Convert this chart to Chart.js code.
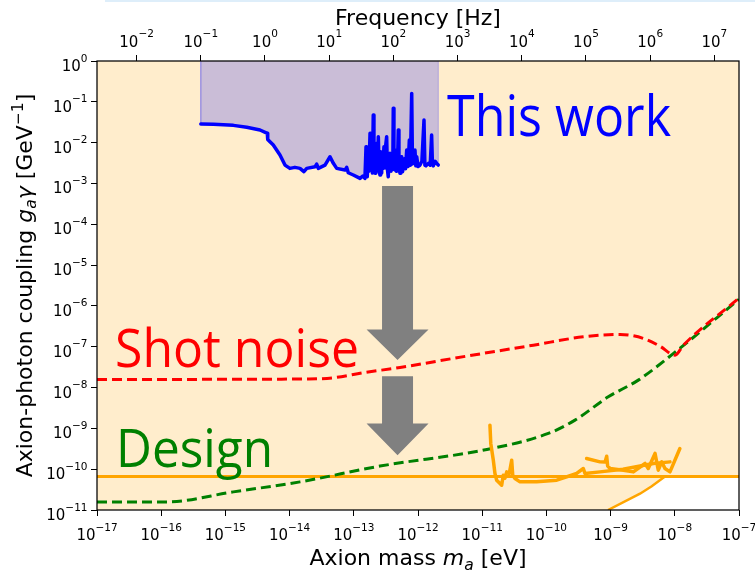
<!DOCTYPE html>
<html><head><meta charset="utf-8">
<script src="https://cdn.jsdelivr.net/npm/chart.js@4.4.0/dist/chart.umd.min.js"></script>
<style>html,body{margin:0;padding:0;background:#fff;overflow:hidden}canvas{display:block}</style>
</head><body>
<canvas id="c" width="755" height="575"></canvas>
<script>
// ---------- data ----------
const PLANCK_EV_S = 4.135667696e-15;          // eV*s, mass -> frequency conversion
const massRange = [1e-17, 1e-7];              // eV
const couplingRange = [1e-11, 1];             // GeV^-1

const massTicks = [1e-17,1e-16,1e-15,1e-14,1e-13,1e-12,1e-11,1e-10,1e-9,1e-8,1e-7];
const massTickExp = ['−17','−16','−15','−14','−13','−12','−11','−10','−9','−8','−7'];
const freqTicks = [1e-2,1e-1,1e0,1e1,1e2,1e3,1e4,1e5,1e6,1e7];
const freqTickExp = ['−2','−1','0','1','2','3','4','5','6','7'];
const couplingTicks = [1e-11,1e-10,1e-9,1e-8,1e-7,1e-6,1e-5,1e-4,1e-3,1e-2,1e-1,1e0];
const couplingTickExp = ['−11','−10','−9','−8','−7','−6','−5','−4','−3','−2','−1','0'];

// "This work" measured limit (0.1 Hz .. ~500 Hz)
const thisWorkMass = [4.14e-16,6.49e-16,1.33e-15,2.15e-15,3.46e-15,4.50e-15,4.56e-15,5.57e-15,7.08e-15,8.47e-15,
  1.01e-14,1.21e-14,1.45e-14,1.67e-14,1.85e-14,2.49e-14,2.64e-14,2.80e-14,3.56e-14,4.26e-14,4.80e-14,5.42e-14,
  7.29e-14,7.74e-14,8.20e-14,9.82e-14,1.25e-13,1.38e-13,1.49e-13,
  1.52e-13,1.55e-13,1.58e-13,1.62e-13,1.68e-13,1.72e-13,1.79e-13,1.84e-13,1.90e-13,1.95e-13,2.01e-13,2.06e-13,
  2.14e-13,2.20e-13,2.28e-13,2.33e-13,2.41e-13,2.48e-13,2.56e-13,2.62e-13,2.68e-13,2.72e-13,2.82e-13,2.95e-13,
  3.05e-13,3.15e-13,3.25e-13,3.34e-13,3.44e-13,3.55e-13,3.66e-13,3.80e-13,3.95e-13,4.05e-13,4.12e-13,4.22e-13,
  4.39e-13,4.50e-13,4.58e-13,4.66e-13,4.78e-13,4.93e-13,5.05e-13,5.25e-13,5.40e-13,5.57e-13,5.75e-13,5.90e-13,
  6.20e-13,6.40e-13,6.67e-13,7.00e-13,7.33e-13,7.60e-13,7.98e-13,8.20e-13,8.45e-13,8.70e-13,8.97e-13,9.25e-13,
  9.55e-13,1.00e-12,1.07e-12,1.15e-12,1.24e-12,1.28e-12,1.33e-12,1.45e-12,1.55e-12,1.63e-12,1.68e-12,1.73e-12,
  1.85e-12,1.95e-12,2.07e-12];
const thisWorkCoupling = [2.86e-2,2.81e-2,2.65e-2,2.37e-2,2.04e-2,1.69e-2,1.20e-2,8.73e-3,4.97e-3,2.82e-3,
  2.34e-3,2.48e-3,2.34e-3,1.94e-3,2.34e-3,2.56e-3,2.99e-3,2.34e-3,2.82e-3,4.51e-3,3.11e-3,2.34e-3,
  2.13e-3,2.48e-3,1.83e-3,1.61e-3,1.33e-3,1.52e-3,1.33e-3,
  3.2e-3,7.94e-3,1.9e-3,1.46e-3,4.5e-3,2.0e-3,1.69e-2,2.5e-3,3.75e-3,1.8e-3,4.74e-2,2.6e-3,
  1.77e-3,5.0e-3,9.62e-3,2.2e-3,1.40e-2,2.0e-3,1.61e-3,6.0e-3,1.8e-3,3.75e-3,2.3e-3,7.94e-3,
  2.4e-3,9.0e-3,1.40e-2,2.2e-3,1.46e-3,3.5e-3,5.47e-3,2.0e-3,4.0e-3,2.2e-3,6.93e-2,2.5e-3,
  2.13e-3,4.51e-3,2.0e-3,6.59e-3,2.4e-3,2.04e-2,2.5e-3,1.77e-3,3.5e-3,4.51e-3,1.94e-3,2.56e-3,
  4.0e-3,2.3e-3,6.59e-3,2.6e-3,1.16e-2,2.8e-3,1.61e-1,3.0e-3,3.11e-3,5.0e-3,6.59e-3,2.7e-3,
  4.51e-3,2.6e-3,2.8e-3,3.5e-3,3.58e-2,2.8e-3,2.7e-3,3.11e-3,2.8e-3,1.53e-2,2.9e-3,2.7e-3,
  3.5e-3,3.11e-3,2.82e-3];
const thisWorkTop = 1;   // shaded band reaches the top of the plot

// "Shot noise" projection
const shotNoiseMass = [1e-17,2e-14,5e-14,1.4e-13,5.25e-13,5.74e-12,6.25e-11,3.76e-10,1.4e-9,3.23e-9,5.87e-9,1.01e-8,1.36e-8,1e-7];
const shotNoiseCoupling = [1.58e-8,1.62e-8,1.75e-8,2.3e-8,3.11e-8,5.89e-8,1.09e-7,1.75e-7,2.0e-7,1.6e-7,1.03e-7,6.22e-8,1.09e-7,1.55e-6];

// "Design" projection
const designMass = [1e-17,1.23e-16,1.33e-15,1.45e-14,2.56e-13,1.24e-11,1.07e-10,2.79e-10,9.20e-10,2.70e-9,9.55e-9,1e-7];
const designCoupling = [1.58e-11,1.58e-11,2.78e-11,4.89e-11,1.19e-10,3.09e-10,7.50e-10,1.59e-9,5.92e-9,1.52e-8,6.85e-8,1.45e-6];

// Existing limits (orange)
const castMass = [1e-17, 1e-7];
const castCoupling = [6.6e-11, 6.6e-11];
const risingMass = [9.12e-10, 2.87e-9, 4.37e-9, 7.03e-9];
const risingCoupling = [1e-11, 2.51e-11, 3.83e-11, 6.6e-11];
const otherMassA = [1.32e-11,1.36e-11,1.49e-11,1.58e-11,1.68e-11,1.89e-11,2.01e-11,2.13e-11,2.26e-11,2.41e-11,2.64e-11,
  2.88e-11,2.99e-11,3.24e-11,3.88e-11,7.06e-11,1.45e-10,2.96e-10,3.76e-10,3.99e-10,6.84e-10,1.56e-9,4.62e-9,8.41e-9];
const otherCouplingA = [1.20e-9,4.27e-10,1.66e-10,7.85e-11,5.37e-11,4.47e-11,4.06e-11,7.13e-11,6.01e-11,8.59e-11,7.85e-11,
  1.66e-10,7.13e-11,5.92e-11,4.89e-11,4.89e-11,5.37e-11,7.85e-11,1.04e-10,7.85e-11,8.59e-11,1.0e-10,1.38e-10,1.51e-10];
const otherMassB = [4.23e-10,6.84e-10,8.18e-10,8.69e-10,9.0e-10,9.8e-10,1.58e-9,2.26e-9,3.44e-9,3.86e-9,4.92e-9,5.53e-9,
  6.25e-9,7.03e-9,8.41e-9,1.20e-8];
const otherCouplingB = [1.83e-10,1.51e-10,1.49e-10,2.08e-10,1.19e-10,1.04e-10,9.44e-11,8.59e-11,1.38e-10,1.04e-10,2.43e-10,
  9.44e-11,1.51e-10,1.04e-10,8.59e-11,3.21e-10];

// grey arrows: [mass, shaft top, head base, tip] in axis units
const arrowMass = 4.8e-13;
const arrowCouplings = [[8.63e-4, 2.65e-7, 4.70e-8], [1.90e-8, 1.32e-9, 2.20e-10]];

// ---------- build ----------
const pts = (xs, ys) => xs.map((x, i) => ({x, y: ys[i]}));
const purpleBand = [{x: thisWorkMass[0], y: thisWorkTop}, ...pts(thisWorkMass, thisWorkCoupling),
  {x: thisWorkMass[thisWorkMass.length - 1], y: thisWorkTop}];
const excludedBoundary = [{x: massRange[0], y: couplingRange[0]}, ...pts(risingMass, risingCoupling),
  {x: massRange[1], y: castCoupling[1]}];

const BASE = {xAxisID: 'x', yAxisID: 'y', pointRadius: 0, fill: false};
const datasets = [
  {...BASE, label: 'excluded', data: excludedBoundary, fill: 'end', backgroundColor: 'rgba(255,165,0,0.2)',
    borderColor: 'rgba(0,0,0,0)', borderWidth: 1, order: 100},
  {...BASE, label: 'band', data: purpleBand, fill: 'end', backgroundColor: 'rgb(202,189,215)',
    borderColor: 'rgba(150,140,225,0.7)', borderWidth: 1, order: 90},
  {...BASE, label: 'cast', data: pts(castMass, castCoupling), borderColor: '#ffa500', borderWidth: 3, order: 50},
  {...BASE, label: 'rising', data: pts(risingMass, risingCoupling), borderColor: '#ffa500', borderWidth: 2.5, order: 50},
  {...BASE, label: 'design', data: pts(designMass, designCoupling), borderColor: '#008000', borderWidth: 3,
    borderDash: [10, 5], cubicInterpolationMode: 'monotone', order: 30},
  {...BASE, label: 'shot', data: pts(shotNoiseMass, shotNoiseCoupling), borderColor: '#ff0000', borderWidth: 3,
    borderDash: [10, 5], cubicInterpolationMode: 'monotone', order: 20},
  {...BASE, label: 'otherA', data: pts(otherMassA, otherCouplingA), borderColor: '#ffa500', borderWidth: 3.5,
    borderJoinStyle: 'round', borderCapStyle: 'round', order: 15},
  {...BASE, label: 'otherB', data: pts(otherMassB, otherCouplingB), borderColor: '#ffa500', borderWidth: 3.5,
    borderJoinStyle: 'round', borderCapStyle: 'round', order: 15},
  {...BASE, label: 'thisWork', data: pts(thisWorkMass, thisWorkCoupling), borderColor: '#0000ff', borderWidth: 3.5,
    borderJoinStyle: 'round', borderCapStyle: 'round', order: 10},
];

const DV = '"DejaVu Sans"';
function drawRuns(ctx, runs, x, y, align) {
  let total = 0;
  runs.forEach(r => { ctx.font = r.font; r.w = ctx.measureText(r.text).width; total += r.w; });
  let cx = align === 'center' ? x - total / 2 : (align === 'right' ? x - total : x);
  ctx.textAlign = 'left'; ctx.textBaseline = 'alphabetic';
  runs.forEach(r => { ctx.font = r.font; ctx.fillText(r.text, cx, y + (r.dy || 0)); cx += r.w; });
}
const powRuns = e => [{text: '10', font: '15px ' + DV}, {text: e, font: '10.5px ' + DV, dy: -9.5}];
function drawFitted(ctx, text, font, color, x, y, width) {
  ctx.font = font; ctx.fillStyle = color; ctx.textAlign = 'left'; ctx.textBaseline = 'alphabetic';
  const m = ctx.measureText(text).width;
  ctx.save(); ctx.translate(x, y); ctx.scale(width / m, 1); ctx.fillText(text, 0, 0); ctx.restore();
}

const decor = {
  id: 'decor',
  afterDatasetsDraw(chart) {
    const {ctx, chartArea: a, scales} = chart;
    const sx = scales.x, sy = scales.y, sf = scales.x2;
    ctx.save();
    // slide strip at very top
    ctx.fillStyle = '#deeefa'; ctx.fillRect(105, 0, 650, 2);
    // arrows
    ctx.fillStyle = '#808080';
    arrowCouplings.forEach(([t, h, tip]) => {
      const cx = sx.getPixelForValue(arrowMass);
      const yt = sy.getPixelForValue(t), yh = sy.getPixelForValue(h), yp = sy.getPixelForValue(tip);
      ctx.beginPath();
      ctx.moveTo(cx - 15.5, yt); ctx.lineTo(cx + 15.5, yt); ctx.lineTo(cx + 15.5, yh); ctx.lineTo(cx + 31, yh);
      ctx.lineTo(cx, yp); ctx.lineTo(cx - 31, yh); ctx.lineTo(cx - 15.5, yh); ctx.closePath(); ctx.fill();
    });
    // frame
    ctx.strokeStyle = '#000'; ctx.lineWidth = 1.25;
    ctx.strokeRect(a.left, a.top, a.right - a.left, a.bottom - a.top);
    // annotations
    drawFitted(ctx, 'This work', '56px "Open Sans"', '#0000ff', 447, 136, 224);
    drawFitted(ctx, 'Shot noise', '53px "Open Sans"', '#ff0000', 115, 367, 244);
    drawFitted(ctx, 'Design', '53.6px "Open Sans"', '#008000', 116, 467, 157);
    // tick labels
    ctx.fillStyle = '#000';
    massTicks.forEach((v, i) => drawRuns(ctx, powRuns(massTickExp[i]), sx.getPixelForValue(v), a.bottom + 30, 'center'));
    freqTicks.forEach((v, i) => drawRuns(ctx, powRuns(freqTickExp[i]), sf.getPixelForValue(v), a.top - 14.5, 'center'));
    couplingTicks.forEach((v, i) => drawRuns(ctx, powRuns(couplingTickExp[i]), a.left - 9.5, sy.getPixelForValue(v) + 10, 'right'));
    // axis titles
    const cxm = (a.left + a.right) / 2, cym = (a.top + a.bottom) / 2;
    drawRuns(ctx, [{text: 'Frequency [Hz]', font: '22px ' + DV}], cxm, 25, 'center');
    drawRuns(ctx, [{text: 'Axion mass ', font: '22px ' + DV}, {text: 'm', font: 'italic 22px ' + DV},
      {text: 'a', font: 'italic 15.5px ' + DV, dy: 4.5}, {text: ' [eV]', font: '22px ' + DV}], cxm, 565, 'center');
    ctx.save(); ctx.translate(31.5, cym); ctx.rotate(-Math.PI / 2);
    drawRuns(ctx, [{text: 'Axion-photon coupling ', font: '22px ' + DV}, {text: 'g', font: 'italic 22px ' + DV},
      {text: 'a', font: 'italic 15.5px ' + DV, dy: 4.5}, {text: 'γ', font: 'italic 22px ' + DV},
      {text: ' [GeV', font: '22px ' + DV}, {text: '−1', font: '15.5px ' + DV, dy: -9}, {text: ']', font: '22px ' + DV}], 0, 0, 'center');
    ctx.restore();
    ctx.restore();
  }
};

const gridOpts = {display: true, drawOnChartArea: false, drawTicks: true, tickLength: 6, color: '#000', lineWidth: 1};
const setTicks = list => (s => { s.ticks = list.map(v => ({value: v})); });

new Chart(document.getElementById('c'), {
  type: 'line',
  data: {datasets},
  options: {
    responsive: false, animation: false, devicePixelRatio: 1,
    layout: {padding: {left: 91, right: 16, top: 55, bottom: 59}},
    plugins: {legend: {display: false}, tooltip: {enabled: false}},
    elements: {point: {radius: 0}, line: {tension: 0}},
    scales: {
      x: {type: 'logarithmic', position: 'bottom', min: massRange[0], max: massRange[1],
        afterBuildTicks: setTicks(massTicks), ticks: {display: false}, grid: gridOpts, border: {display: false}},
      x2: {type: 'logarithmic', position: 'top', min: massRange[0] / PLANCK_EV_S, max: massRange[1] / PLANCK_EV_S,
        afterBuildTicks: setTicks(freqTicks), ticks: {display: false}, grid: gridOpts, border: {display: false}},
      y: {type: 'logarithmic', position: 'left', min: couplingRange[0], max: couplingRange[1],
        afterBuildTicks: setTicks(couplingTicks), ticks: {display: false}, grid: gridOpts, border: {display: false}}
    }
  },
  plugins: [decor]
});
</script>
</body></html>
